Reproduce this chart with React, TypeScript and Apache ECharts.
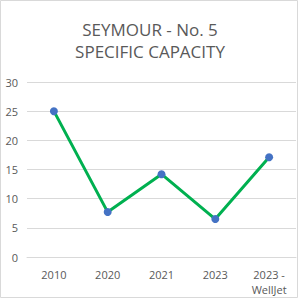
import React, { useEffect, useRef } from "react";
import * as echarts from "echarts";

const categories = ["2010", "2020", "2021", "2023", "2023 -\nWellJet"];
const capacity = [25, 7.7, 14.2, 6.5, 17.1];
const yTicks = { min: 0, max: 30, interval: 5 };

export default function App() {
  const ref = useRef<HTMLDivElement>(null);
  useEffect(() => {
    if (!ref.current) return;
    const chart = echarts.init(ref.current, null, { renderer: "svg" });
    chart.setOption({
      animation: false,
      backgroundColor: "#ffffff",
      textStyle: { fontFamily: "Open Sans" },
      title: {
        text: "SEYMOUR - No. 5\nSPECIFIC CAPACITY",
        left: "center",
        top: 13,
        textStyle: {
          fontSize: 17,
          lineHeight: 22,
          fontWeight: "normal",
          color: "#595959",
          fontFamily: "Open Sans",
        },
      },
      graphic: [
        {
          type: "rect",
          shape: { x: 0.5, y: 0.5, width: 297, height: 297 },
          style: { fill: "none", stroke: "#d9d9d9", lineWidth: 1 },
          silent: true,
        },
      ],
      grid: { left: 27, right: 4, top: 82, bottom: 43, containLabel: false },
      xAxis: {
        type: "category",
        data: categories,
        boundaryGap: true,
        axisLine: { show: true, lineStyle: { color: "#d9d9d9", width: 1 } },
        axisTick: { show: false },
        axisLabel: {
          color: "#595959",
          fontSize: 11,
          lineHeight: 15,
          margin: 10,
          interval: 0,
          fontFamily: "Open Sans",
        },
      },
      yAxis: {
        type: "value",
        min: yTicks.min,
        max: yTicks.max,
        interval: yTicks.interval,
        axisLine: { show: false },
        axisTick: { show: false },
        splitLine: { lineStyle: { color: "#d9d9d9", width: 1 } },
        axisLabel: { color: "#595959", fontSize: 11, margin: 9, fontFamily: "Open Sans" },
      },
      series: [
        {
          type: "line",
          data: capacity,
          symbol: "circle",
          symbolSize: 8,
          lineStyle: { color: "#00b050", width: 3 },
          itemStyle: { color: "#4472c4" },
        },
      ],
    });
    return () => chart.dispose();
  }, []);
  return (
    <div
      ref={ref}
      style={{ position: "fixed", left: 0, top: 0, width: 300, height: 300 }}
    />
  );
}
